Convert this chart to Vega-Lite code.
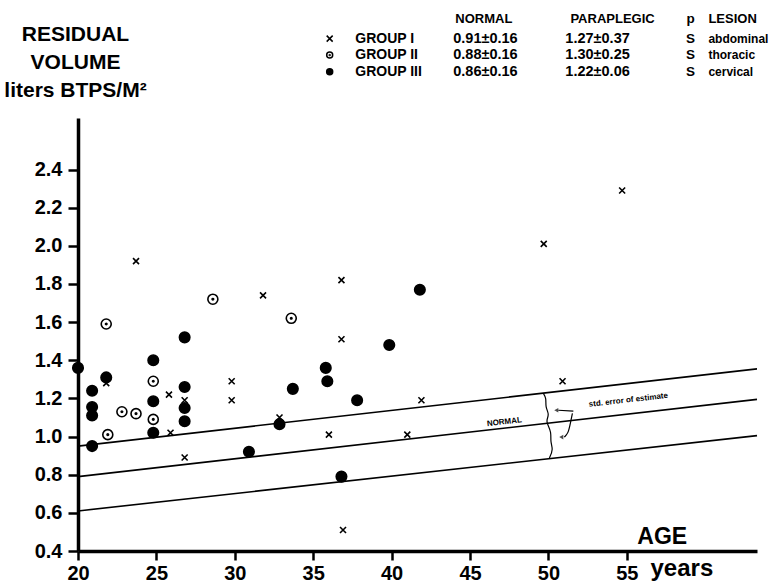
{
  "$schema": "https://vega.github.io/schema/vega-lite/v6.json",
  "width": 679,
  "height": 433,
  "autosize": "none",
  "padding": {"left": 78, "top": 118, "right": 12, "bottom": 32},
  "background": "white",
  "config": {
    "view": {"stroke": null},
    "font": "Liberation Sans",
    "axis": {"grid": false, "domainColor": "black", "tickColor": "black", "labelColor": "black", "titleColor": "black", "labelFont": "Liberation Sans", "titleFont": "Liberation Sans", "labelFontWeight": "bold", "titleFontWeight": "bold"}
  },
  "datasets": {
    "points": [
      {"group": "I", "age": 21.8, "rv": 1.28},
      {"group": "I", "age": 23.7, "rv": 1.92},
      {"group": "I", "age": 25.8, "rv": 1.22},
      {"group": "I", "age": 25.9, "rv": 1.02},
      {"group": "I", "age": 26.8, "rv": 1.19},
      {"group": "I", "age": 26.8, "rv": 0.89},
      {"group": "I", "age": 29.8, "rv": 1.29},
      {"group": "I", "age": 29.8, "rv": 1.19},
      {"group": "I", "age": 31.8, "rv": 1.74},
      {"group": "I", "age": 32.85, "rv": 1.10},
      {"group": "I", "age": 36.0, "rv": 1.01},
      {"group": "I", "age": 36.8, "rv": 1.82},
      {"group": "I", "age": 36.8, "rv": 1.51},
      {"group": "I", "age": 36.9, "rv": 0.51},
      {"group": "I", "age": 41.0, "rv": 1.01},
      {"group": "I", "age": 41.9, "rv": 1.19},
      {"group": "I", "age": 49.7, "rv": 2.01},
      {"group": "I", "age": 50.9, "rv": 1.29},
      {"group": "I", "age": 54.7, "rv": 2.29},
      {"group": "II", "age": 21.8, "rv": 1.59},
      {"group": "II", "age": 24.8, "rv": 1.29},
      {"group": "II", "age": 22.8, "rv": 1.13},
      {"group": "II", "age": 23.7, "rv": 1.12},
      {"group": "II", "age": 24.8, "rv": 1.09},
      {"group": "II", "age": 21.9, "rv": 1.01},
      {"group": "II", "age": 28.6, "rv": 1.72},
      {"group": "II", "age": 33.6, "rv": 1.62},
      {"group": "III", "age": 20.0, "rv": 1.36},
      {"group": "III", "age": 26.8, "rv": 1.52},
      {"group": "III", "age": 24.8, "rv": 1.40},
      {"group": "III", "age": 21.8, "rv": 1.31},
      {"group": "III", "age": 20.9, "rv": 1.24},
      {"group": "III", "age": 26.8, "rv": 1.26},
      {"group": "III", "age": 24.8, "rv": 1.185},
      {"group": "III", "age": 20.9, "rv": 1.155},
      {"group": "III", "age": 20.9, "rv": 1.11},
      {"group": "III", "age": 26.8, "rv": 1.15},
      {"group": "III", "age": 26.8, "rv": 1.08},
      {"group": "III", "age": 24.8, "rv": 1.02},
      {"group": "III", "age": 20.9, "rv": 0.95},
      {"group": "III", "age": 35.8, "rv": 1.36},
      {"group": "III", "age": 35.9, "rv": 1.29},
      {"group": "III", "age": 33.7, "rv": 1.25},
      {"group": "III", "age": 37.8, "rv": 1.19},
      {"group": "III", "age": 32.85, "rv": 1.065},
      {"group": "III", "age": 30.9, "rv": 0.92},
      {"group": "III", "age": 36.8, "rv": 0.79},
      {"group": "III", "age": 39.85, "rv": 1.48},
      {"group": "III", "age": 41.8, "rv": 1.77}
    ],
    "normal": [
      {"line": "upper", "age": 20, "rv": 0.95},
      {"line": "upper", "age": 63.3, "rv": 1.355},
      {"line": "mean", "age": 20, "rv": 0.79},
      {"line": "mean", "age": 63.3, "rv": 1.195},
      {"line": "lower", "age": 20, "rv": 0.61},
      {"line": "lower", "age": 63.3, "rv": 1.005}
    ],
    "sketch": [
      {"part": "brace", "order": 1, "age": 49.67, "rv": 1.227},
      {"part": "brace", "order": 2, "age": 49.87, "rv": 1.201},
      {"part": "brace", "order": 3, "age": 49.80, "rv": 1.154},
      {"part": "brace", "order": 4, "age": 50.06, "rv": 1.117},
      {"part": "brace", "order": 5, "age": 49.87, "rv": 1.086},
      {"part": "brace", "order": 6, "age": 49.93, "rv": 1.065},
      {"part": "brace", "order": 7, "age": 50.19, "rv": 1.023},
      {"part": "brace", "order": 8, "age": 50.12, "rv": 0.971},
      {"part": "brace", "order": 9, "age": 50.31, "rv": 0.934},
      {"part": "brace", "order": 10, "age": 50.06, "rv": 0.887},
      {"part": "arrow1", "order": 1, "age": 51.59, "rv": 1.133},
      {"part": "arrow1", "order": 2, "age": 50.63, "rv": 1.138},
      {"part": "arrow2", "order": 1, "age": 51.53, "rv": 1.122},
      {"part": "arrow2", "order": 2, "age": 51.40, "rv": 1.070},
      {"part": "arrow2", "order": 3, "age": 51.27, "rv": 1.018},
      {"part": "arrow2", "order": 4, "age": 51.01, "rv": 0.997}
    ],
    "heads": [
      {"age": 50.50, "rv": 1.138},
      {"age": 50.82, "rv": 0.997}
    ],
    "notes": [
      {"label": "NORMAL", "age": 47.19, "rv": 1.075},
      {"label": "std. error of estimate", "age": 55.1, "rv": 1.19}
    ],
    "big": [
      {"label": "AGE", "age": 55.67, "rv": 0.473}
    ],
    "tableHead": [
      {"label": "NORMAL", "age": 44.06, "rv": 3.19},
      {"label": "PARAPLEGIC", "age": 51.4, "rv": 3.19},
      {"label": "LESION", "age": 60.2, "rv": 3.19}
    ],
    "tableP": [
      {"label": "p", "age": 59.06, "rv": 3.19},
      {"label": "S", "age": 59.06, "rv": 3.086},
      {"label": "S", "age": 59.06, "rv": 3.0},
      {"label": "S", "age": 59.06, "rv": 2.913}
    ],
    "tableGroups": [
      {"label": "GROUP I", "age": 37.68, "rv": 3.086},
      {"label": "GROUP II", "age": 37.68, "rv": 3.0},
      {"label": "GROUP III", "age": 37.68, "rv": 2.913}
    ],
    "tableValues": [
      {"label": "0.91±0.16", "age": 43.93, "rv": 3.086},
      {"label": "1.27±0.37", "age": 51.08, "rv": 3.086},
      {"label": "0.88±0.16", "age": 43.93, "rv": 3.0},
      {"label": "1.30±0.25", "age": 51.08, "rv": 3.0},
      {"label": "0.86±0.16", "age": 43.93, "rv": 2.913},
      {"label": "1.22±0.06", "age": 51.08, "rv": 2.913}
    ],
    "tableLesion": [
      {"label": "abdominal", "age": 60.2, "rv": 3.086},
      {"label": "thoracic", "age": 60.2, "rv": 3.0},
      {"label": "cervical", "age": 60.2, "rv": 2.913}
    ],
    "keys": [
      {"group": "I", "age": 36.05, "rv": 3.086},
      {"group": "II", "age": 36.05, "rv": 3.0},
      {"group": "III", "age": 36.05, "rv": 2.913}
    ]
  },
  "encoding": {
    "x": {
      "field": "age", "type": "quantitative",
      "scale": {"domain": [20, 63.3], "nice": false, "zero": false},
      "axis": {
        "values": [20, 25, 30, 35, 40, 45, 50, 55], "format": "d",
        "labelFontSize": 20, "tickSize": 9, "tickWidth": 2.5, "domainWidth": 3.5,
        "labelPadding": 3, "labelFlush": false,
        "title": "years", "titleX": 572, "titleY": 24, "titleAlign": "left", "titleBaseline": "alphabetic", "titleFontSize": 24
      }
    },
    "y": {
      "field": "rv", "type": "quantitative",
      "scale": {"domain": [0.4, 2.67], "nice": false, "zero": false},
      "axis": {
        "values": [0.4, 0.6, 0.8, 1.0, 1.2, 1.4, 1.6, 1.8, 2.0, 2.2, 2.4], "format": ".1f",
        "labelFontSize": 20, "tickSize": 10, "tickWidth": 2.5, "domainWidth": 3.5,
        "labelPadding": 6, "labelFlush": false,
        "title": ["RESIDUAL", "VOLUME", "liters BTPS/M²"], "titleAngle": 0, "titleAlign": "center", "titleBaseline": "alphabetic",
        "titleX": -3, "titleY": -78, "titleFontSize": 21, "titleLineHeight": 28
      }
    }
  },
  "layer": [
    {
      "data": {"name": "normal"},
      "mark": {"type": "line", "color": "black", "strokeWidth": 1.6},
      "encoding": {"detail": {"field": "line", "type": "nominal"}}
    },
    {
      "data": {"name": "sketch"},
      "mark": {"type": "line", "color": "black", "strokeWidth": 1.2, "interpolate": "basis"},
      "encoding": {"detail": {"field": "part", "type": "nominal"}, "order": {"field": "order", "type": "quantitative"}}
    },
    {
      "data": {"name": "heads"},
      "mark": {"type": "point", "shape": "triangle-left", "filled": true, "color": "black", "size": 22},
      "encoding": {}
    },
    {
      "data": {"name": "points"},
      "mark": {"type": "point", "strokeWidth": 1.6, "opacity": 1},
      "encoding": {
        "shape": {"field": "group", "type": "nominal", "legend": null,
          "scale": {"domain": ["I", "II", "III"], "range": ["M-1,-1L1,1M-1,1L1,-1", "M-1,0A1,1,0,1,0,1,0A1,1,0,1,0,-1,0ZM-0.15,0A0.15,0.15,0,1,0,0.15,0A0.15,0.15,0,1,0,-0.15,0Z", "circle"]}},
        "fill": {"field": "group", "type": "nominal", "legend": null,
          "scale": {"domain": ["I", "II", "III"], "range": ["transparent", "transparent", "black"]}},
        "size": {"field": "group", "type": "nominal", "legend": null,
          "scale": {"type": "ordinal", "domain": ["I", "II", "III"], "range": [36, 100, 110]}},
        "stroke": {"value": "black"}
      }
    },
    {
      "data": {"name": "keys"},
      "mark": {"type": "point", "strokeWidth": 1.5, "opacity": 1},
      "encoding": {
        "shape": {"field": "group", "type": "nominal", "legend": null},
        "fill": {"field": "group", "type": "nominal", "legend": null},
        "size": {"value": 36},
        "stroke": {"value": "black"}
      }
    },
    {
      "data": {"name": "notes"},
      "mark": {"type": "text", "fontSize": 8, "fontWeight": "bold", "angle": 353.5, "align": "center", "baseline": "middle", "color": "black"},
      "encoding": {"text": {"field": "label"}}
    },
    {
      "data": {"name": "big"},
      "mark": {"type": "text", "fontSize": 23, "fontWeight": "bold", "align": "left", "baseline": "middle", "color": "black"},
      "encoding": {"text": {"field": "label"}}
    },
    {
      "data": {"name": "tableHead"},
      "mark": {"type": "text", "fontSize": 13, "fontWeight": "bold", "align": "left", "baseline": "middle", "color": "black"},
      "encoding": {"text": {"field": "label"}}
    },
    {
      "data": {"name": "tableP"},
      "mark": {"type": "text", "fontSize": 13.5, "fontWeight": "bold", "align": "center", "baseline": "middle", "color": "black"},
      "encoding": {"text": {"field": "label"}}
    },
    {
      "data": {"name": "tableGroups"},
      "mark": {"type": "text", "fontSize": 14, "fontWeight": "bold", "align": "left", "baseline": "middle", "color": "black"},
      "encoding": {"text": {"field": "label"}}
    },
    {
      "data": {"name": "tableValues"},
      "mark": {"type": "text", "fontSize": 14.5, "fontWeight": "bold", "align": "left", "baseline": "middle", "color": "black"},
      "encoding": {"text": {"field": "label"}}
    },
    {
      "data": {"name": "tableLesion"},
      "mark": {"type": "text", "fontSize": 12, "fontWeight": "bold", "align": "left", "baseline": "middle", "color": "black"},
      "encoding": {"text": {"field": "label"}}
    }
  ]
}
